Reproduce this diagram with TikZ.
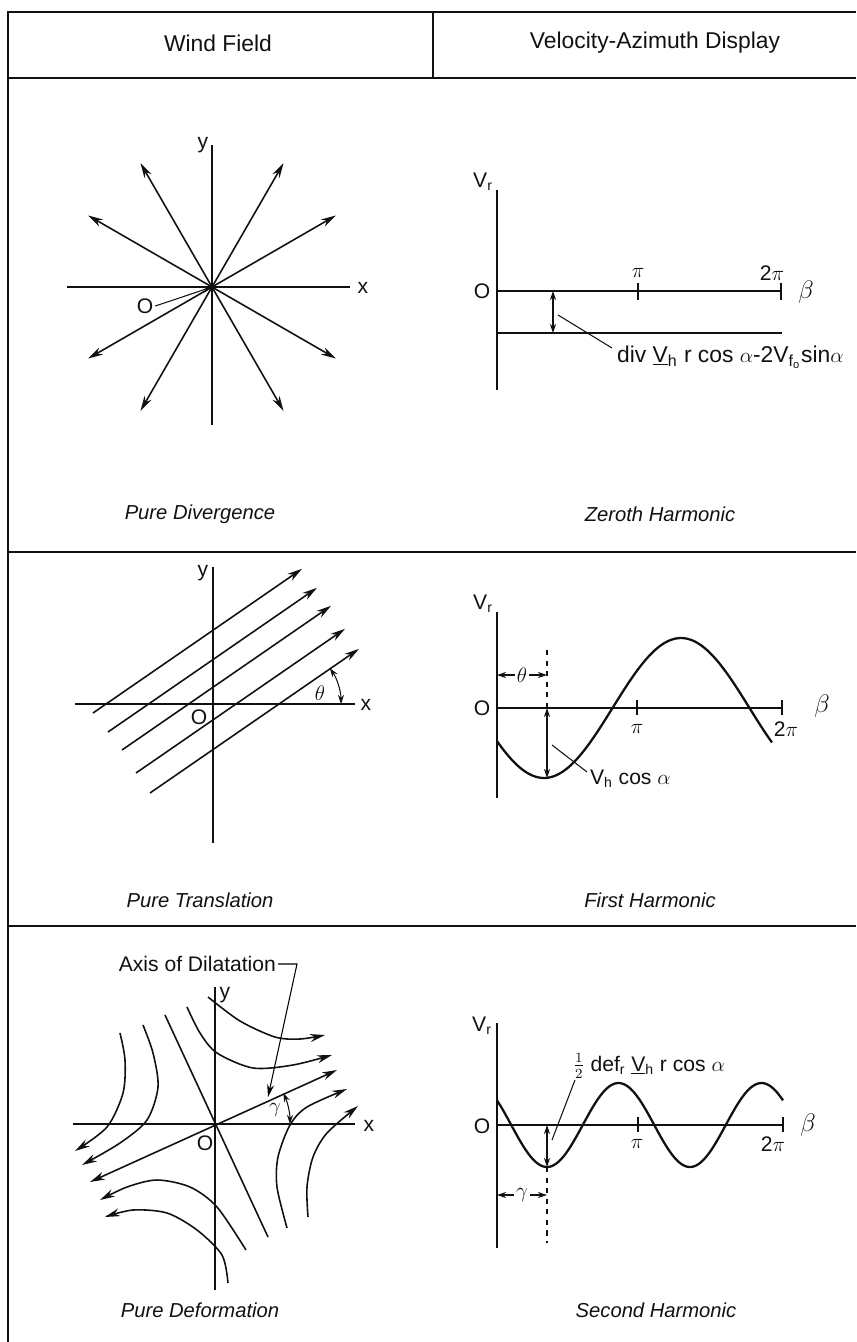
\documentclass[tikz,border=0pt]{standalone}
\usepackage{fontspec}
\setmainfont{Liberation Sans}
\usetikzlibrary{arrows.meta}
\definecolor{inkline}{HTML}{111111}

\begin{document}
\begin{tikzpicture}[
  x=0.02cm,y=-0.02cm,
  every node/.style={font=\fontsize{12}{14}\selectfont,text=inkline,inner sep=1pt},
  frame/.style={line width=1.2pt,draw=inkline},
  axis/.style={line width=0.6pt,draw=inkline},
  vaxis/.style={line width=1pt,draw=inkline},
  curve/.style={line width=1.3pt,draw=inkline},
  flow/.style={line width=0.9pt,draw=inkline,-{Stealth[length=3mm,width=1.6mm]}},
  dim/.style={line width=0.6pt,draw=inkline,{Stealth[length=1.8mm,width=1.2mm]}-{Stealth[length=1.8mm,width=1.2mm]}},
  ptr/.style={line width=0.6pt,draw=inkline,-{Stealth[length=1.8mm,width=1.2mm]}},
  lead/.style={line width=0.6pt,draw=inkline},
  title/.style={font=\fontsize{13}{15}\selectfont},
  caption/.style={font=\fontsize{11.5}{13}\selectfont\itshape},
  bigsym/.style={font=\fontsize{15}{17}\selectfont}
]
\useasboundingbox (0,0) rectangle (856,1342);
% frame and header
\draw[frame] (8,1342) -- (8,12) -- (856,12);
\draw[frame] (8,78) -- (856,78);
\draw[frame] (433,12) -- (433,78);
\draw[frame] (8,552) -- (856,552);
\draw[frame] (8,926) -- (856,926);
\node[title] (hwind) at (218,43) {Wind Field};
\node[title] (hvad) at (655,43) {Velocity-Azimuth Display};

% pure divergence
\coordinate (o1) at (212,287);
\draw[axis] (67,287) -- (350,287);
\draw[axis] (212,145) -- (212,425);
\node (x1) at (363,288) {x};
\node (y1) at (203,145) {y};
\foreach \a in {30,60,120,150,210,240,300,330}
  \draw[flow] (o1) -- ++(\a:143);
\fill[inkline] (o1) circle (3);
\node (lo1) at (145,306) {O};
\draw[ptr] (lo1.east) -- (o1);
\node[caption] (cap1) at (200,514) {Pure Divergence};

% zeroth harmonic
\draw[vaxis] (497,190) -- (497,390);
\node (vr1) at (483,182) {V\textsubscript{r}};
\draw[axis] (497,291) -- (781,291);
\draw[axis] (638,283) -- (638,300);
\draw[axis] (781,283) -- (781,300);
\node (pi1) at (638,273) {$\pi$};
\node (tpi1) at (772,273) {2$\pi$};
\node[bigsym] (b1) at (806,292) {$\beta$};
\node (z1) at (482,291) {O};
\draw[curve] (497,333) -- (782,333);
\draw[dim] (553,291) -- (553,333);
\node[anchor=base west,font=\fontsize{13}{15}\selectfont] (div1) at (615,362)
  {div \underline{V}\textsubscript{h} r cos $\alpha$-2V\textsubscript{f\textsubscript{o}}sin$\alpha$};
\draw[lead] (558,315) -- (612,348);
\node[caption] (cap2) at (660,514) {Zeroth Harmonic};

% pure translation
\coordinate (o2) at (213,704);
\draw[axis] (75,704) -- (355,704);
\draw[axis] (213,567) -- (213,843);
\node (x2) at (366,705) {x};
\node (y2) at (203,573) {y};
\node (lo2) at (199,717) {O};
\foreach \sx/\sy in {93/713,108/732,122/750,136/773,150/793}
  \draw[flow] (\sx,\sy) -- ++(-34.6:254);
\coordinate (c2) at (278,704);
\draw[dim] (c2) ++(-34.6:63) arc[start angle=-34.6,end angle=0,radius=63];
\node (th1) at (320,693) {$\theta$};
\node[caption] (cap3) at (200,900) {Pure Translation};

% first harmonic
\draw[vaxis] (497,612) -- (497,798);
\node (vr2) at (483,604) {V\textsubscript{r}};
\draw[axis] (497,708) -- (782,708);
\draw[axis] (637,700) -- (637,715);
\draw[axis] (782,700) -- (782,715);
\node (pi2) at (637,729) {$\pi$};
\node (tpi2) at (786,729) {2$\pi$};
\node[bigsym] (b2) at (822,706) {$\beta$};
\node (z2) at (482,708) {O};
\draw[curve] plot[domain=497:772,samples=80,smooth] (\x,{708+70*cos((\x-544)/274*360)});
\draw[axis,dashed] (547,650) -- (547,708);
\draw[dim] (547,708) -- (547,778);
\node (th2) at (522,675) {$\theta$};
\draw[ptr] (th2.west) -- (497,675);
\draw[ptr] (th2.east) -- (547,675);
\draw[lead] (552,745) -- (587,772);
\node[anchor=west] (vh2) at (588,779) {V\textsubscript{h} cos $\alpha$};
\node[caption] (cap4) at (650,900) {First Harmonic};

% pure deformation
\coordinate (o3) at (215,1124);
\draw[axis] (73,1124) -- (355,1124);
\draw[axis] (215,987) -- (215,1290);
\node (x3) at (369,1126) {x};
\node (y3) at (225,995) {y};
\node (lo3) at (205,1143) {O};
\draw[flow,{Stealth[length=3mm,width=1.6mm]}-{Stealth[length=3mm,width=1.6mm]}] (90,1182) -- (337,1070);
\draw[curve,line width=0.9pt] (165,1015) -- (268,1237);
\draw[flow] plot[smooth] coordinates {(208,997) (240,1021) (275,1037) (300,1039) (325,1035)};
\draw[flow] plot[smooth] coordinates {(187,1007) (200,1033) (217,1053) (253,1068) (293,1065) (332,1055)};
\draw[flow] plot[smooth] coordinates {(287,1228) (277,1187) (278,1157) (290,1125) (307,1107) (347,1089)};
\draw[flow] plot[smooth] coordinates {(308,1217) (307,1187) (313,1157) (327,1133) (358,1106)};
\draw[flow] plot[smooth] coordinates {(120,1033) (125,1060) (123,1093) (107,1127) (75,1151)};
\draw[flow] plot[smooth] coordinates {(143,1025) (153,1053) (158,1087) (147,1120) (120,1143) (82,1165)};
\draw[flow] plot[smooth] coordinates {(246,1250) (217,1207) (190,1187) (157,1180) (127,1187) (100,1200)};
\draw[flow] plot[smooth] coordinates {(228,1283) (222,1255) (197,1230) (167,1213) (133,1210) (105,1217)};
\node[anchor=east] (axd) at (278,964) {Axis of Dilatation};
\draw[line width=0.6pt,-{Stealth[length=2.5mm,width=1.4mm]}] (axd.east) -- (297,964) -- (268,1097);
\draw[dim] (o3) ++(-24.4:75) arc[start angle=-24.4,end angle=0,radius=75];
\node (ga1) at (275,1110) {$\gamma$};
\node[caption] (cap5) at (200,1310) {Pure Deformation};

% second harmonic
\draw[vaxis] (497,1023) -- (497,1248);
\node (vr3) at (482,1026) {V\textsubscript{r}};
\draw[axis] (497,1125) -- (783,1125);
\draw[axis] (638,1117) -- (638,1132);
\draw[axis] (783,1117) -- (783,1132);
\node (pi3) at (637,1144) {$\pi$};
\node (tpi3) at (773,1144) {2$\pi$};
\node[bigsym] (b3) at (808,1125) {$\beta$};
\node (z3) at (482,1126) {O};
\draw[curve] plot[domain=497:783,samples=120,smooth] (\x,{1125+42*cos((\x-547)/143*360)});
\draw[dim] (547,1125) -- (547,1167);
\draw[axis,dashed] (547,1167) -- (547,1243);
\node (ga3) at (522,1195) {$\gamma$};
\draw[ptr] (ga3.west) -- (497,1195);
\draw[ptr] (ga3.east) -- (547,1195);
\node[anchor=base west] (def3) at (571,1071)
  {$\frac{1}{2}$ def\textsubscript{r} \underline{V}\textsubscript{h} r cos $\alpha$};
\draw[lead] (575,1080) -- (552,1140);
\node[caption] (cap6) at (656,1310) {Second Harmonic};
\end{tikzpicture}
\end{document}
